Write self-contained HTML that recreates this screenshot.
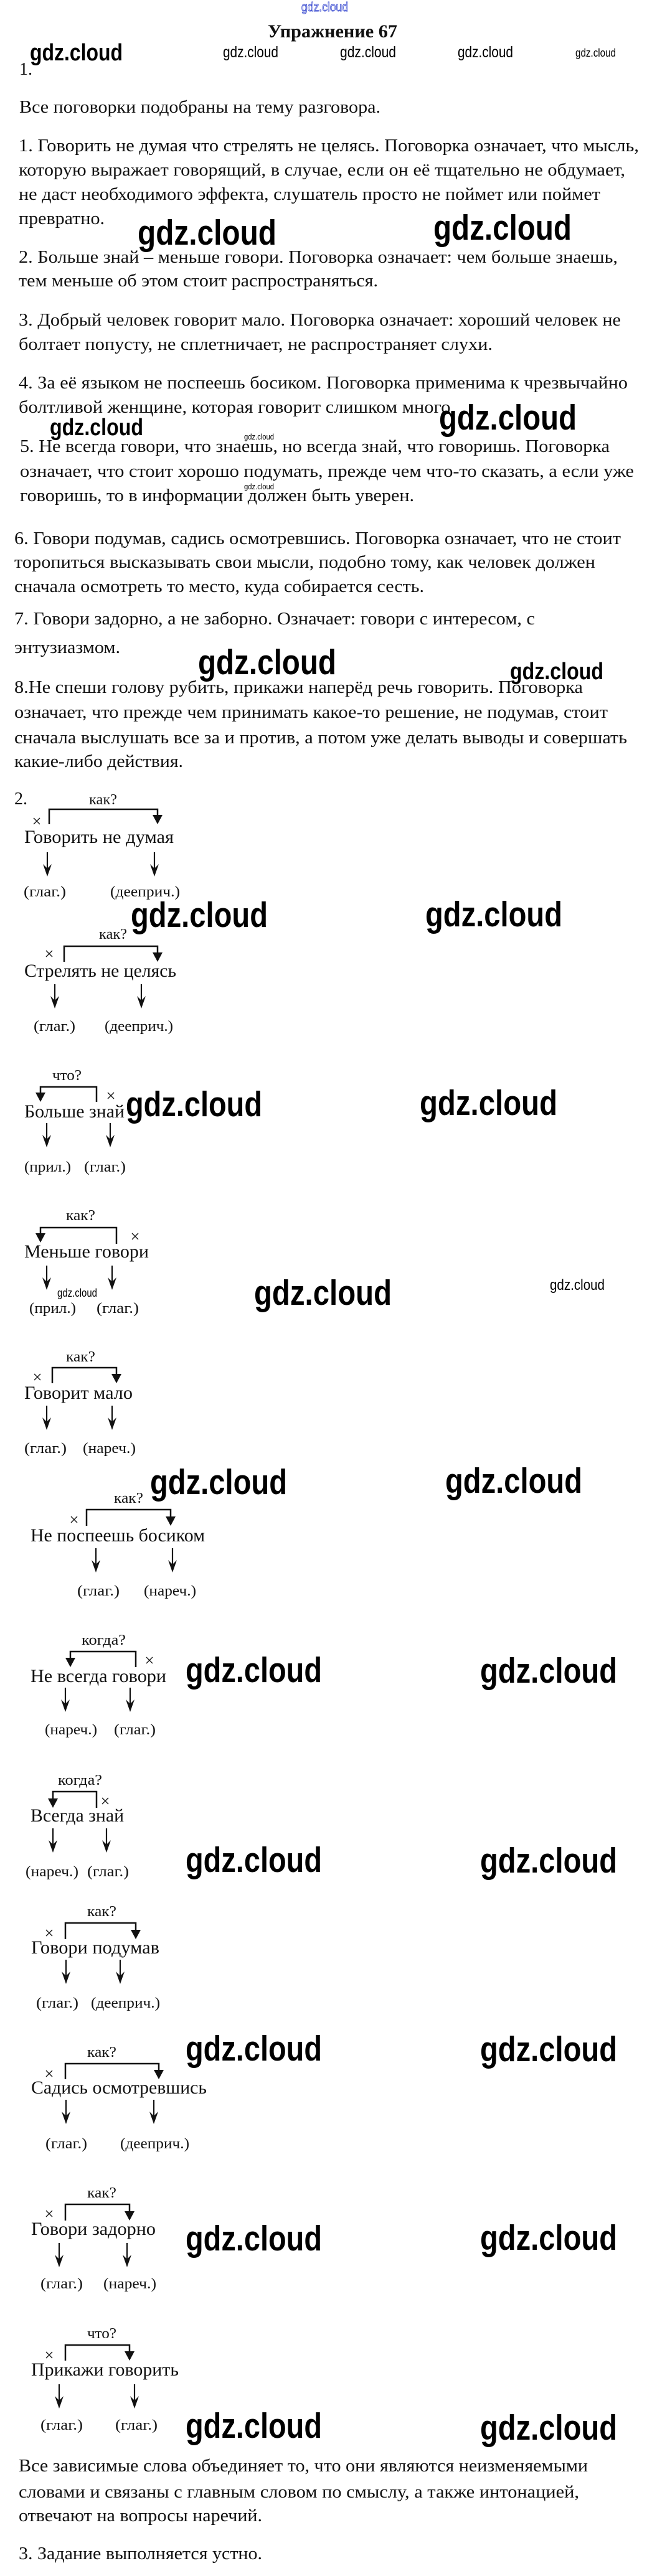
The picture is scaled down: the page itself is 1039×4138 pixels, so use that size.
<!DOCTYPE html>
<html lang="ru"><head><meta charset="utf-8"><title>Упражнение 67</title>
<style>
html,body{margin:0;padding:0;background:#fff;}
svg{display:block;}
.b{font-family:"Liberation Serif","Noto Serif CJK SC",serif;font-size:28px;fill:#111;}
.t{font-family:"Liberation Serif",serif;font-size:30px;font-weight:bold;fill:#111;}
.d{font-family:"Liberation Serif",serif;font-size:30px;fill:#111;}
.l{font-family:"Liberation Serif",serif;font-size:24px;fill:#111;}
.w{font-family:"Liberation Sans",sans-serif;font-weight:bold;fill:#000;}
.ws{font-family:"Liberation Sans",sans-serif;fill:#000;}
</style></head>
<body>
<svg xmlns="http://www.w3.org/2000/svg" xmlns:xlink="http://www.w3.org/1999/xlink" width="1039" height="4138" viewBox="0 0 1039 4138">
<defs>
<g id="da"><path d="M0,-39 V-12" stroke="#111" stroke-width="2.2" fill="none"/><path d="M-7,-20 L0,0 L7,-20 L0,-13 Z" fill="#111"/></g>
<g id="ta"><path d="M-8,-15 L8,-15 L0,0 Z" fill="#111"/></g>
<g id="xx"><path d="M-5,-5 L5,5 M5,-5 L-5,5" stroke="#111" stroke-width="1.3"/></g>
</defs>
<rect width="1039" height="4138" fill="#fff"/>

<!-- header -->
<text x="484" y="18" font-family="Liberation Sans, sans-serif" font-size="20" fill="#fff" stroke="#3a4bd0" stroke-width="0.9" textLength="75" lengthAdjust="spacingAndGlyphs">gdz.cloud</text>
<text class="t" x="430" y="60" textLength="208" lengthAdjust="spacingAndGlyphs">Упражнение 67</text>
<text class="w" x="48" y="97" font-size="38" textLength="149" lengthAdjust="spacingAndGlyphs">gdz.cloud</text>
<text class="ws" x="358" y="92" font-size="25" textLength="89" lengthAdjust="spacingAndGlyphs">gdz.cloud</text>
<text class="ws" x="546" y="92" font-size="25" textLength="90" lengthAdjust="spacingAndGlyphs">gdz.cloud</text>
<text class="ws" x="735" y="92" font-size="25" textLength="89" lengthAdjust="spacingAndGlyphs">gdz.cloud</text>
<text class="ws" x="924" y="91" font-size="18" textLength="65" lengthAdjust="spacingAndGlyphs">gdz.cloud</text>
<text class="b" x="31" y="120">1.</text>
<text class="b" x="31" y="181" textLength="580" lengthAdjust="spacingAndGlyphs">Все поговорки подобраны на тему разговора.</text>

<text class="b" x="30" y="243" textLength="996" lengthAdjust="spacingAndGlyphs">1. Говорить не думая что стрелять не целясь. Поговорка означает, что мысль,</text>
<text class="b" x="30" y="282" textLength="974" lengthAdjust="spacingAndGlyphs">которую выражает говорящий, в случае, если он её тщательно не обдумает,</text>
<text class="b" x="30" y="321" textLength="934" lengthAdjust="spacingAndGlyphs">не даст необходимого эффекта, слушатель просто не поймет или поймет</text>
<text class="b" x="30" y="360" textLength="138" lengthAdjust="spacingAndGlyphs">превратно.</text>
<text class="w" x="221" y="393" font-size="57" textLength="223" lengthAdjust="spacingAndGlyphs">gdz.cloud</text>
<text class="w" x="696" y="385" font-size="57" textLength="222" lengthAdjust="spacingAndGlyphs">gdz.cloud</text>

<text class="b" x="30" y="422" textLength="962" lengthAdjust="spacingAndGlyphs">2. Больше знай – меньше говори. Поговорка означает: чем больше знаешь,</text>
<text class="b" x="30" y="460" textLength="577" lengthAdjust="spacingAndGlyphs">тем меньше об этом стоит распространяться.</text>

<text class="b" x="30" y="523" textLength="967" lengthAdjust="spacingAndGlyphs">3. Добрый человек говорит мало. Поговорка означает: хороший человек не</text>
<text class="b" x="30" y="562" textLength="761" lengthAdjust="spacingAndGlyphs">болтает попусту, не сплетничает, не распространяет слухи.</text>

<text class="b" x="30" y="624" textLength="978" lengthAdjust="spacingAndGlyphs">4. За её языком не поспеешь босиком. Поговорка применима к чрезвычайно</text>
<text class="b" x="30" y="663" textLength="701" lengthAdjust="spacingAndGlyphs">болтливой женщине, которая говорит слишком много.</text>
<text class="w" x="705" y="690" font-size="57" textLength="221" lengthAdjust="spacingAndGlyphs">gdz.cloud</text>
<text class="w" x="80" y="699" font-size="38" textLength="150" lengthAdjust="spacingAndGlyphs">gdz.cloud</text>
<text class="ws" x="392" y="706" font-size="13" textLength="48" lengthAdjust="spacingAndGlyphs">gdz.cloud</text>

<text class="b" x="32" y="726" textLength="947" lengthAdjust="spacingAndGlyphs">5. Не всегда говори, что знаешь, но всегда знай, что говоришь. Поговорка</text>
<text class="b" x="32" y="766" textLength="986" lengthAdjust="spacingAndGlyphs">означает, что стоит хорошо подумать, прежде чем что-то сказать, а если уже</text>
<text class="ws" x="392" y="786" font-size="13" textLength="48" lengthAdjust="spacingAndGlyphs">gdz.cloud</text>
<text class="b" x="32" y="805" textLength="633" lengthAdjust="spacingAndGlyphs">говоришь, то в информации должен быть уверен.</text>

<text class="b" x="23" y="874" textLength="974" lengthAdjust="spacingAndGlyphs">6. Говори подумав, садись осмотревшись. Поговорка означает, что не стоит</text>
<text class="b" x="23" y="912" textLength="933" lengthAdjust="spacingAndGlyphs">торопиться высказывать свои мысли, подобно тому, как человек должен</text>
<text class="b" x="23" y="951" textLength="658" lengthAdjust="spacingAndGlyphs">сначала осмотреть то место, куда собирается сесть.</text>

<text class="b" x="23" y="1003" textLength="836" lengthAdjust="spacingAndGlyphs">7. Говори задорно, а не заборно. Означает: говори с интересом, с</text>
<text class="b" x="23" y="1049" textLength="170" lengthAdjust="spacingAndGlyphs">энтузиазмом.</text>
<text class="w" x="318" y="1083" font-size="57" textLength="222" lengthAdjust="spacingAndGlyphs">gdz.cloud</text>
<text class="w" x="819" y="1091" font-size="38" textLength="150" lengthAdjust="spacingAndGlyphs">gdz.cloud</text>

<text class="b" x="23" y="1113" textLength="913" lengthAdjust="spacingAndGlyphs">8.Не спеши голову рубить, прикажи наперёд речь говорить. Поговорка</text>
<text class="b" x="23" y="1153" textLength="953" lengthAdjust="spacingAndGlyphs">означает, что прежде чем принимать какое-то решение, не подумав, стоит</text>
<text class="b" x="23" y="1194" textLength="984" lengthAdjust="spacingAndGlyphs">сначала выслушать все за и против, а потом уже делать выводы и совершать</text>
<text class="b" x="23" y="1232" textLength="271" lengthAdjust="spacingAndGlyphs">какие-либо действия.</text>

<text class="b" x="23" y="1292">2.</text>

<!-- brackets -->
<g stroke="#111" stroke-width="2.5" fill="none">
<path d="M79,1324 V1300 H253 V1312"/>
<path d="M103,1545 V1520 H253 V1532"/>
<path d="M65,1758 V1746 H155 V1770"/>
<path d="M65,1984 V1972 H187 V1998"/>
<path d="M84,2222 V2197 H187 V2209"/>
<path d="M139,2451 V2425 H274 V2438"/>
<path d="M113,2665 V2653 H218 V2678"/>
<path d="M85,2890 V2878 H155 V2904"/>
<path d="M105,3115 V3089 H218 V3102"/>
<path d="M105,3340 V3315 H255 V3327"/>
<path d="M105,3567 V3541 H208 V3554"/>
<path d="M105,3792 V3767 H208 V3779"/>
</g>
<use xlink:href="#ta" href="#ta" x="253" y="1324"/>
<use xlink:href="#ta" href="#ta" x="253" y="1545"/>
<use xlink:href="#ta" href="#ta" x="65" y="1770"/>
<use xlink:href="#ta" href="#ta" x="65" y="1996"/>
<use xlink:href="#ta" href="#ta" x="187" y="2222"/>
<use xlink:href="#ta" href="#ta" x="274" y="2451"/>
<use xlink:href="#ta" href="#ta" x="113" y="2678"/>
<use xlink:href="#ta" href="#ta" x="85" y="2904"/>
<use xlink:href="#ta" href="#ta" x="218" y="3115"/>
<use xlink:href="#ta" href="#ta" x="255" y="3340"/>
<use xlink:href="#ta" href="#ta" x="208" y="3567"/>
<use xlink:href="#ta" href="#ta" x="208" y="3792"/>

<!-- crosses -->
<use xlink:href="#xx" href="#xx" x="59" y="1319"/>
<use xlink:href="#xx" href="#xx" x="79" y="1532"/>
<use xlink:href="#xx" href="#xx" x="178" y="1760"/>
<use xlink:href="#xx" href="#xx" x="217" y="1986"/>
<use xlink:href="#xx" href="#xx" x="60" y="2212"/>
<use xlink:href="#xx" href="#xx" x="119" y="2441"/>
<use xlink:href="#xx" href="#xx" x="240" y="2667"/>
<use xlink:href="#xx" href="#xx" x="169" y="2893"/>
<use xlink:href="#xx" href="#xx" x="79" y="3105"/>
<use xlink:href="#xx" href="#xx" x="79" y="3331"/>
<use xlink:href="#xx" href="#xx" x="79" y="3556"/>
<use xlink:href="#xx" href="#xx" x="79" y="3783"/>

<!-- down arrows -->
<use xlink:href="#da" href="#da" x="76" y="1408"/><use xlink:href="#da" href="#da" x="248" y="1408"/>
<use xlink:href="#da" href="#da" x="88" y="1620"/><use xlink:href="#da" href="#da" x="227" y="1620"/>
<use xlink:href="#da" href="#da" x="75" y="1843"/><use xlink:href="#da" href="#da" x="177" y="1843"/>
<use xlink:href="#da" href="#da" x="75" y="2072"/><use xlink:href="#da" href="#da" x="180" y="2072"/>
<use xlink:href="#da" href="#da" x="75" y="2297"/><use xlink:href="#da" href="#da" x="180" y="2297"/>
<use xlink:href="#da" href="#da" x="154" y="2526"/><use xlink:href="#da" href="#da" x="277" y="2526"/>
<use xlink:href="#da" href="#da" x="105" y="2750"/><use xlink:href="#da" href="#da" x="209" y="2750"/>
<use xlink:href="#da" href="#da" x="85" y="2976"/><use xlink:href="#da" href="#da" x="171" y="2976"/>
<use xlink:href="#da" href="#da" x="106" y="3187"/><use xlink:href="#da" href="#da" x="193" y="3187"/>
<use xlink:href="#da" href="#da" x="106" y="3412"/><use xlink:href="#da" href="#da" x="247" y="3412"/>
<use xlink:href="#da" href="#da" x="95" y="3642"/><use xlink:href="#da" href="#da" x="204" y="3642"/>
<use xlink:href="#da" href="#da" x="95" y="3869"/><use xlink:href="#da" href="#da" x="216" y="3869"/>

<!-- D1 -->
<text class="l" x="143" y="1292" textLength="45" lengthAdjust="spacingAndGlyphs">как?</text>
<text class="d" x="39" y="1354" textLength="240" lengthAdjust="spacingAndGlyphs">Говорить не думая</text>
<text class="l" x="38" y="1440" textLength="68" lengthAdjust="spacingAndGlyphs">(глаг.)</text>
<text class="l" x="177" y="1440" textLength="112" lengthAdjust="spacingAndGlyphs">(дееприч.)</text>
<text class="w" x="210" y="1489" font-size="57" textLength="220" lengthAdjust="spacingAndGlyphs">gdz.cloud</text>
<text class="w" x="683" y="1488" font-size="57" textLength="220" lengthAdjust="spacingAndGlyphs">gdz.cloud</text>

<!-- D2 -->
<text class="l" x="159" y="1508" textLength="45" lengthAdjust="spacingAndGlyphs">как?</text>
<text class="d" x="39" y="1569" textLength="244" lengthAdjust="spacingAndGlyphs">Стрелять не целясь</text>
<text class="l" x="54" y="1656" textLength="67" lengthAdjust="spacingAndGlyphs">(глаг.)</text>
<text class="l" x="168" y="1656" textLength="110" lengthAdjust="spacingAndGlyphs">(дееприч.)</text>

<!-- D3 -->
<text class="l" x="84" y="1735" textLength="47" lengthAdjust="spacingAndGlyphs">что?</text>
<text class="d" x="39" y="1795" textLength="161" lengthAdjust="spacingAndGlyphs">Больше знай</text>
<text class="w" x="202" y="1793" font-size="57" textLength="219" lengthAdjust="spacingAndGlyphs">gdz.cloud</text>
<text class="w" x="674" y="1791" font-size="57" textLength="221" lengthAdjust="spacingAndGlyphs">gdz.cloud</text>
<text class="l" x="39" y="1882" textLength="75" lengthAdjust="spacingAndGlyphs">(прил.)</text>
<text class="l" x="135" y="1882" textLength="67" lengthAdjust="spacingAndGlyphs">(глаг.)</text>

<!-- D4 -->
<text class="l" x="106" y="1960" textLength="47" lengthAdjust="spacingAndGlyphs">как?</text>
<text class="d" x="39" y="2020" textLength="200" lengthAdjust="spacingAndGlyphs">Меньше говори</text>
<text class="ws" x="92" y="2083" font-size="18" textLength="64" lengthAdjust="spacingAndGlyphs">gdz.cloud</text>
<text class="l" x="47" y="2109" textLength="75" lengthAdjust="spacingAndGlyphs">(прил.)</text>
<text class="l" x="155" y="2109" textLength="68" lengthAdjust="spacingAndGlyphs">(глаг.)</text>
<text class="w" x="408" y="2096" font-size="57" textLength="221" lengthAdjust="spacingAndGlyphs">gdz.cloud</text>
<text class="ws" x="883" y="2072" font-size="24" textLength="88" lengthAdjust="spacingAndGlyphs">gdz.cloud</text>

<!-- D5 -->
<text class="l" x="106" y="2187" textLength="47" lengthAdjust="spacingAndGlyphs">как?</text>
<text class="d" x="39" y="2247" textLength="174" lengthAdjust="spacingAndGlyphs">Говорит мало</text>
<text class="l" x="39" y="2334" textLength="68" lengthAdjust="spacingAndGlyphs">(глаг.)</text>
<text class="l" x="133" y="2334" textLength="85" lengthAdjust="spacingAndGlyphs">(нареч.)</text>

<!-- D6 -->
<text class="w" x="241" y="2400" font-size="57" textLength="220" lengthAdjust="spacingAndGlyphs">gdz.cloud</text>
<text class="w" x="715" y="2398" font-size="57" textLength="220" lengthAdjust="spacingAndGlyphs">gdz.cloud</text>
<text class="l" x="183" y="2414" textLength="47" lengthAdjust="spacingAndGlyphs">как?</text>
<text class="d" x="49" y="2476" textLength="280" lengthAdjust="spacingAndGlyphs">Не поспеешь босиком</text>
<text class="l" x="124" y="2563" textLength="68" lengthAdjust="spacingAndGlyphs">(глаг.)</text>
<text class="l" x="231" y="2563" textLength="84" lengthAdjust="spacingAndGlyphs">(нареч.)</text>

<!-- D7 -->
<text class="l" x="131" y="2642" textLength="71" lengthAdjust="spacingAndGlyphs">когда?</text>
<text class="d" x="49" y="2702" textLength="218" lengthAdjust="spacingAndGlyphs">Не всегда говори</text>
<text class="w" x="298" y="2702" font-size="57" textLength="219" lengthAdjust="spacingAndGlyphs">gdz.cloud</text>
<text class="w" x="771" y="2703" font-size="57" textLength="220" lengthAdjust="spacingAndGlyphs">gdz.cloud</text>
<text class="l" x="72" y="2786" textLength="84" lengthAdjust="spacingAndGlyphs">(нареч.)</text>
<text class="l" x="183" y="2786" textLength="67" lengthAdjust="spacingAndGlyphs">(глаг.)</text>

<!-- D8 -->
<text class="l" x="93" y="2867" textLength="71" lengthAdjust="spacingAndGlyphs">когда?</text>
<text class="d" x="49" y="2926" textLength="150" lengthAdjust="spacingAndGlyphs">Всегда знай</text>
<text class="l" x="41" y="3014" textLength="85" lengthAdjust="spacingAndGlyphs">(нареч.)</text>
<text class="l" x="140" y="3014" textLength="67" lengthAdjust="spacingAndGlyphs">(глаг.)</text>
<text class="w" x="298" y="3007" font-size="57" textLength="219" lengthAdjust="spacingAndGlyphs">gdz.cloud</text>
<text class="w" x="771" y="3008" font-size="57" textLength="220" lengthAdjust="spacingAndGlyphs">gdz.cloud</text>

<!-- D9 -->
<text class="l" x="140" y="3078" textLength="47" lengthAdjust="spacingAndGlyphs">как?</text>
<text class="d" x="50" y="3138" textLength="206" lengthAdjust="spacingAndGlyphs">Говори подумав</text>
<text class="l" x="58" y="3225" textLength="68" lengthAdjust="spacingAndGlyphs">(глаг.)</text>
<text class="l" x="146" y="3225" textLength="111" lengthAdjust="spacingAndGlyphs">(дееприч.)</text>

<!-- D10 -->
<text class="w" x="298" y="3310" font-size="57" textLength="219" lengthAdjust="spacingAndGlyphs">gdz.cloud</text>
<text class="w" x="771" y="3311" font-size="57" textLength="220" lengthAdjust="spacingAndGlyphs">gdz.cloud</text>
<text class="l" x="140" y="3304" textLength="47" lengthAdjust="spacingAndGlyphs">как?</text>
<text class="d" x="50" y="3363" textLength="282" lengthAdjust="spacingAndGlyphs">Садись осмотревшись</text>
<text class="l" x="73" y="3451" textLength="67" lengthAdjust="spacingAndGlyphs">(глаг.)</text>
<text class="l" x="193" y="3451" textLength="111" lengthAdjust="spacingAndGlyphs">(дееприч.)</text>

<!-- D11 -->
<text class="l" x="140" y="3530" textLength="47" lengthAdjust="spacingAndGlyphs">как?</text>
<text class="d" x="50" y="3590" textLength="200" lengthAdjust="spacingAndGlyphs">Говори задорно</text>
<text class="w" x="298" y="3615" font-size="57" textLength="219" lengthAdjust="spacingAndGlyphs">gdz.cloud</text>
<text class="w" x="771" y="3614" font-size="57" textLength="220" lengthAdjust="spacingAndGlyphs">gdz.cloud</text>
<text class="l" x="65" y="3676" textLength="68" lengthAdjust="spacingAndGlyphs">(глаг.)</text>
<text class="l" x="166" y="3676" textLength="85" lengthAdjust="spacingAndGlyphs">(нареч.)</text>

<!-- D12 -->
<text class="l" x="140" y="3756" textLength="47" lengthAdjust="spacingAndGlyphs">что?</text>
<text class="d" x="50" y="3816" textLength="237" lengthAdjust="spacingAndGlyphs">Прикажи говорить</text>
<text class="l" x="65" y="3903" textLength="68" lengthAdjust="spacingAndGlyphs">(глаг.)</text>
<text class="l" x="185" y="3903" textLength="68" lengthAdjust="spacingAndGlyphs">(глаг.)</text>
<text class="w" x="298" y="3916" font-size="57" textLength="219" lengthAdjust="spacingAndGlyphs">gdz.cloud</text>
<text class="w" x="771" y="3919" font-size="57" textLength="220" lengthAdjust="spacingAndGlyphs">gdz.cloud</text>

<!-- final text -->
<text class="b" x="30" y="3970" textLength="914" lengthAdjust="spacingAndGlyphs">Все зависимые слова объединяет то, что они являются неизменяемыми</text>
<text class="b" x="30" y="4012" textLength="900" lengthAdjust="spacingAndGlyphs">словами и связаны с главным словом по смыслу, а также интонацией,</text>
<text class="b" x="30" y="4050" textLength="391" lengthAdjust="spacingAndGlyphs">отвечают на вопросы наречий.</text>
<text class="b" x="30" y="4111" textLength="391" lengthAdjust="spacingAndGlyphs">3. Задание выполняется устно.</text>
</svg>
</body></html>
